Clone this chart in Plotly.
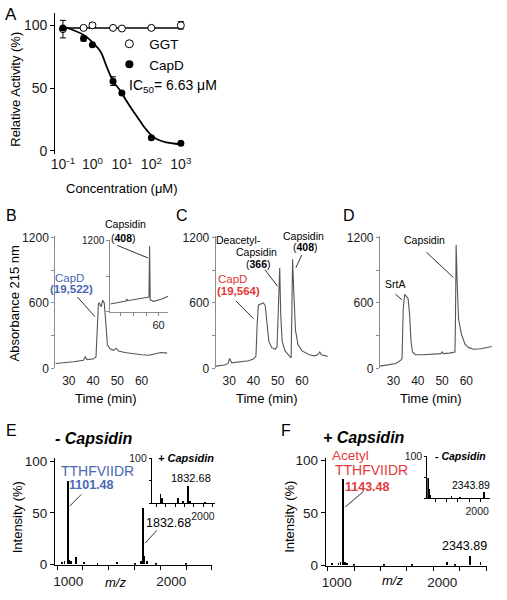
import plotly.graph_objects as go

W, H = 507, 600
FONT = "Liberation Sans, Arial, sans-serif"
BLUE = "#4a68b4"
RED = "#e23a3a"
GRAYAX = "#8c8c8c"
TRACE = "#555555"

# ---------------- data ----------------
# Panel A
conc = [0.1, 0.5, 1, 5, 10, 100, 1000]
ggt_act = [97, 98, 100, 98, 97.5, 98, 100]
ggt_err = [7, 1, 2, 1, 1, 1, 3]
capd_act = [98, 89.5, 84.5, 55.5, 46, 10.3, 5.9]
capd_err = [1, 2, 1, 3.5, 1, 1, 1]
ggt_fit_x = [0.1, 1000]
ggt_fit_y = [98, 98]
capd_fit_x = [0.1, 0.12, 0.54, 1.15, 1.9, 3.16, 5.2, 8.5, 14, 23.4, 39, 64.6, 107, 177, 293, 977]
capd_fit_y = [99, 98.5, 92, 85, 79, 66, 55, 48.4, 40, 32, 24.5, 17.3, 11.6, 8.5, 6.9, 5.1]
x_ticks_a = [0.1, 1, 10, 100, 1000]
x_ticktext_a = ["10<sup>-1</sup>", "10<sup>0</sup>", "10<sup>1</sup>", "10<sup>2</sup>", "10<sup>3</sup>"]

# Panel B (HPLC, CapD)
b_time = [24.5, 28, 32, 36, 36.8, 37.5, 40, 41.2, 41.7, 42.2, 42.6, 43.3, 44.0, 44.6, 45.3, 45.9,
          47, 48.5, 49.5, 50.5, 53, 56, 60, 63, 66, 68, 70.5]
b_abs = [45, 50, 60, 75, 105, 80, 85, 105, 450, 590, 600, 565, 625, 600, 400, 215,
         180, 165, 185, 160, 145, 135, 125, 120, 135, 145, 140]
# Panel B inset
bi_time = [21.5, 34, 34.6, 35.2, 52.3, 52.8, 53.3, 56, 62, 67.7]
bi_abs = [130, 180, 215, 185, 245, 1100, 200, 175, 210, 260]

# Panel C
c_time = [24.5, 28, 29.5, 30.2, 31, 33, 36, 38, 40, 41, 41.5, 42, 43, 44, 44.8, 45.5, 46.3, 47.5,
          49, 49.7, 50.3, 50.8, 51.2, 51.8, 53, 54.5, 55.5, 55.8, 56.1, 56.6, 57.3, 58.3, 60, 63,
          65, 66.5, 67.3, 68, 70.5]
c_abs = [20, 30, 45, 90, 50, 55, 65, 70, 85, 110, 400, 580, 590, 600, 580, 450, 250, 190,
         175, 200, 600, 920, 500, 250, 160, 120, 95, 500, 1000, 700, 350, 220, 160, 125,
         115, 125, 150, 125, 110]

# Panel D
d_time = [24.5, 28, 31, 33, 33.5, 34.0, 34.6, 35.3, 36.0, 36.6, 37.2, 37.8, 39, 42, 46, 49.5, 50,
          50.5, 53, 55.3, 55.5, 55.8, 56.2, 56.8, 58, 59.5, 61, 63, 66, 68, 70.5]
d_abs = [20, 30, 45, 75, 90, 550, 680, 660, 640, 500, 250, 150, 125, 125, 130, 135, 150,
         135, 140, 150, 400, 1135, 800, 450, 310, 220, 190, 175, 180, 190, 200]

time_ticks = [30, 40, 50, 60]
abs_ticks = [0, 300, 600, 900, 1200]
abs_ticktext = ["0", " ", "600", " ", "1200"]

# Panel E (MS, - Capsidin) and inset (+ Capsidin)
e_mz = [1047, 1070, 1101.48, 1115, 1130, 1181, 1262, 1390, 1578, 1756, 1810, 1832.68, 1843, 1872, 1960, 2250]
e_int = [2, 3, 81, 4, 3, 7, 2, 1, 2, 1.5, 3, 55, 8, 3, 1, 1]
ei_mz = [1101.48, 1143, 1574, 1697, 1832.68, 1900, 2300]
ei_int = [20, 12, 11, 4, 38, 3, 2]

# Panel F (MS, + Capsidin) and inset (- Capsidin)
f_mz = [1040, 1101, 1120, 1143.48, 1160, 1183, 1250, 1530, 1800, 2125, 2200, 2343.89, 2445]
f_int = [2, 2, 3, 82, 3, 2, 1, 1, 1, 3, 1, 9, 3]
fi_mz = [1101.48, 1110, 1125, 1143, 1615, 1800, 2343.89]
fi_int = [48, 22, 10, 6, 3, 2, 14]

mz_ticks = [1000, 1250, 1500, 1750, 2000, 2250, 2500]
mz_ticktext = ["1000", " ", " ", " ", "2000", " ", " "]
mz_inset_ticktext = [" ", " ", " ", " ", "2000", " ", " "]


# ---------------- helpers ----------------
def dx(a, b):
    return [a / W, b / W]


def dy(top, bottom):
    return [1 - bottom / H, 1 - top / H]


def ann(text, x, y, size=12, color="black", angle=0, xanchor="center"):
    return dict(text=text, x=x / W, y=1 - y / H, xref="paper", yref="paper",
                showarrow=False, xanchor=xanchor, yanchor="middle", textangle=angle,
                font=dict(family=FONT, size=size, color=color))


def seg(x0, y0, x1, y1, color="#333333"):
    return dict(type="line", xref="paper", yref="paper", x0=x0 / W, y0=1 - y0 / H,
                x1=x1 / W, y1=1 - y1 / H, line=dict(color=color, width=1))


fig = go.Figure()

# ---- A ----
fig.add_trace(go.Scatter(x=ggt_fit_x, y=ggt_fit_y, mode="lines", line=dict(color="black", width=1.5),
                         xaxis="x", yaxis="y", showlegend=False, hoverinfo="skip"))
fig.add_trace(go.Scatter(x=capd_fit_x, y=capd_fit_y, mode="lines", line=dict(color="black", width=1.8, shape="spline"),
                         xaxis="x", yaxis="y", showlegend=False, hoverinfo="skip"))
fig.add_trace(go.Scatter(x=conc, y=ggt_act, mode="markers", xaxis="x", yaxis="y", showlegend=False,
                         error_y=dict(type="data", array=ggt_err, color="black", thickness=1, width=3),
                         marker=dict(symbol="circle", size=7, color="white", line=dict(color="black", width=1))))
fig.add_trace(go.Scatter(x=conc, y=capd_act, mode="markers", xaxis="x", yaxis="y", showlegend=False,
                         error_y=dict(type="data", array=capd_err, color="black", thickness=1, width=3),
                         marker=dict(symbol="circle", size=7, color="black")))
fig.add_trace(go.Scatter(x=[None], y=[None], mode="markers", name="GGT", xaxis="x", yaxis="y",
                         marker=dict(symbol="circle", size=8, color="white", line=dict(color="black", width=1))))
fig.add_trace(go.Scatter(x=[None], y=[None], mode="markers", name="CapD", xaxis="x", yaxis="y",
                         marker=dict(symbol="circle", size=8, color="black")))

# ---- B, C, D ----
for t, a, xa, ya in [(b_time, b_abs, "x2", "y2"), (bi_time, bi_abs, "x3", "y3"),
                     (c_time, c_abs, "x4", "y4"), (d_time, d_abs, "x5", "y5")]:
    fig.add_trace(go.Scatter(x=t, y=a, mode="lines", line=dict(color=TRACE, width=1.1),
                             xaxis=xa, yaxis=ya, showlegend=False, hoverinfo="skip"))

# ---- E, F ----
for mz, it, xa, ya, w in [(e_mz, e_int, "x6", "y6", 8), (ei_mz, ei_int, "x7", "y7", 20),
                          (f_mz, f_int, "x8", "y8", 8), (fi_mz, fi_int, "x9", "y9", 18)]:
    fig.add_trace(go.Bar(x=mz, y=it, width=w, marker=dict(color="black", line=dict(width=0)),
                         xaxis=xa, yaxis=ya, showlegend=False, hoverinfo="skip"))

tickfont = lambda s: dict(family=FONT, size=s, color="#1a1a1a")

layout = dict(
    width=W, height=H, autosize=False, margin=dict(l=0, r=0, t=0, b=0, pad=0),
    paper_bgcolor="white", plot_bgcolor="rgba(0,0,0,0)",
    font=dict(family=FONT, color="black"),
    bargap=0, showlegend=True,
    legend=dict(x=109 / W, y=1 - 23 / H, xanchor="left", yanchor="top",
                font=dict(family=FONT, size=13.5), bgcolor="rgba(0,0,0,0)", itemwidth=30,
                tracegroupgap=0),
    # A
    xaxis=dict(domain=dx(53, 190), type="log", range=[-1.262, 3.23], tickvals=x_ticks_a, ticktext=x_ticktext_a,
               showline=False, ticks="", showgrid=False, zeroline=False, tickfont=tickfont(14), anchor="y"),
    yaxis=dict(domain=dy(7, 152), range=[-3, 110], tickvals=[0, 50, 100], showline=True, linecolor="black",
               linewidth=1.2, ticks="outside", ticklen=4, tickcolor="black", showgrid=False, zeroline=False,
               tickfont=tickfont(14), anchor="x"),
)

# chromatogram axes
def chrom_axes(n, xd):
    layout[f"xaxis{n}"] = dict(domain=dx(*xd), range=[24.4, 71], tickvals=time_ticks, showline=False, ticks="",
                               showgrid=False, zeroline=False, tickfont=tickfont(12), ticklabelstandoff=4,
                               anchor=f"y{n}")
    layout[f"yaxis{n}"] = dict(domain=dy(236, 371), range=[0, 1210], tickvals=abs_ticks, ticktext=abs_ticktext,
                               showline=True, linecolor=GRAYAX, linewidth=1, ticks="outside", ticklen=3,
                               tickcolor=GRAYAX, showgrid=False, zeroline=False, tickfont=tickfont(12),
                               anchor=f"x{n}")

chrom_axes(2, (53, 170))
chrom_axes(4, (219, 336))
chrom_axes(5, (389, 506))
layout["xaxis3"] = dict(domain=dx(110, 170), range=[21.5, 67.7], tickvals=[30, 40, 50, 60],
                        ticktext=[" ", " ", " ", "60"], showline=True, linecolor=GRAYAX, linewidth=1,
                        ticks="outside", ticklen=3, tickcolor=GRAYAX, showgrid=False, zeroline=False,
                        tickfont=tickfont(11), tickangle=0, anchor="y3")
layout["yaxis3"] = dict(domain=dy(240, 313), range=[0, 1200], tickvals=[0, 600, 1200], ticktext=[" ", " ", "1200"],
                        showline=True, linecolor=GRAYAX, linewidth=1, ticks="outside", ticklen=3,
                        tickcolor=GRAYAX, showgrid=False, zeroline=False, tickfont=tickfont(10), anchor="x3")

# MS axes
def ms_axes(n, xd, yd, xr, yr, fs, shift, xlabels, ylabels):
    layout[f"xaxis{n}"] = dict(domain=dx(*xd), range=xr, tickvals=mz_ticks, ticktext=xlabels,
                               showline=True, linecolor="black", linewidth=1, ticks="outside", ticklen=4,
                               tickcolor="black", showgrid=False, zeroline=False, tickfont=tickfont(fs),
                               ticklabelshift=shift, tickangle=0, anchor=f"y{n}")
    layout[f"yaxis{n}"] = dict(domain=dy(*yd), range=yr, tickvals=[0, 50, 100], ticktext=ylabels,
                               showline=True, linecolor="black", linewidth=1, ticks="outside", ticklen=4,
                               tickcolor="black", showgrid=False, zeroline=False, tickfont=tickfont(fs),
                               anchor=f"x{n}")

ms_axes(6, (52.7, 215), (463, 572), [978, 2500], [0, 103], 13.5, 11, mz_ticktext, ["0", "50", "100"])
ms_axes(7, (153, 218), (463, 509), [876, 2555], [0, 100], 10.5, 9, mz_inset_ticktext, [" ", " ", "100"])
ms_axes(8, (333, 500), (463, 573), [982, 2510], [0, 102], 13.5, 9, mz_ticktext, ["0", "50", "100"])
ms_axes(9, (438, 503), (461, 504), [1073, 2466], [0, 100], 10.5, 8, mz_inset_ticktext, [" ", " ", "100"])
for n in (7, 9):
    layout[f"xaxis{n}"]["ticklen"] = 3
    layout[f"yaxis{n}"]["ticklen"] = 2

annotations = [
    # A
    ann("A", 7, 9, 17),
    ann("IC<sub>50</sub>= 6.63 μM", 127, 82, 14, xanchor="left"),
    ann("Concentration (μM)", 122, 187, 13),
    ann("Relative Activity (%)", 11, 85, 13, angle=-90),
    # B
    ann("B", 8, 215, 16),
    ann("Capsidin", 126, 223, 10.5),
    ann("(<b>408</b>)", 124, 238, 10.5),
    ann("CapD", 68, 278, 11.5, BLUE),
    ann("<b>(19,522)</b>", 70, 290, 11.5, BLUE),
    ann("Absorbance 215 nm", 11, 305, 13, angle=-90),
    ann("Time (min)", 106, 402, 13),
    # C
    ann("C", 184, 214, 16),
    ann("Deacetyl-", 243, 240, 10.5),
    ann("Capsidin", 261, 252, 10.5),
    ann("(<b>366</b>)", 263, 264, 10.5),
    ann("Capsidin", 310, 236, 10.5),
    ann("(<b>408</b>)", 312, 247, 10.5),
    ann("CapD", 236, 280, 11.5, RED),
    ann("<b>(19,564)</b>", 243, 292, 11.5, RED),
    ann("Time (min)", 272, 402, 13),
    # D
    ann("D", 357, 214, 16),
    ann("Capsidin", 435, 240, 10.5),
    ann("SrtA", 405, 285, 10.5),
    ann("Time (min)", 442, 402, 13),
    # E
    ann("E", 8, 435, 16),
    ann("<b><i>- Capsidin</i></b>", 93, 443, 16),
    ann("TTHFVIIDR", 97, 476, 14, BLUE),
    ann("<b>1101.48</b>", 91, 490, 12.5, BLUE),
    ann("1832.68", 170, 529, 12.5),
    ann("<b><i>+ Capsidin</i></b>", 188, 463, 11),
    ann("1832.68", 194, 483, 11),
    ann("<i>m/z</i>", 115, 590, 13),
    ann("Intensity (%)", 14, 524, 13, angle=-90),
    # F
    ann("F", 292, 435, 16),
    ann("<b><i>+ Capsidin</i></b>", 373, 442, 16),
    ann("Acetyl", 359, 460, 13.5, RED),
    ann("TTHFVIIDR", 380, 475, 14, RED),
    ann("<b>1143.48</b>", 376, 492, 12.5, RED),
    ann("2343.89", 476, 553, 12.5),
    ann("<b><i>- Capsidin</i></b>", 472, 461, 10.5),
    ann("2343.89", 483, 490, 10.5),
    ann("<i>m/z</i>", 402, 588, 13),
    ann("Intensity (%)", 296, 523, 13, angle=-90),
]

shapes = [
    seg(76, 298, 94, 318),     # B CapD
    seg(117, 245, 149, 258),   # B Capsidin
    seg(270, 270, 283, 287),   # C Deacetyl
    seg(308, 255, 302, 268),   # C Capsidin
    seg(240, 302, 258, 320),   # C CapD
    seg(437, 252, 465, 278),   # D Capsidin
    seg(405, 295, 412, 301),   # D SrtA
    seg(80, 500, 68, 512),     # E 1101
    seg(158, 537, 146, 550),   # E 1832
    seg(372, 497, 353, 513),   # F 1143
]

layout["annotations"] = annotations
layout["shapes"] = shapes
fig.update_layout(**layout)

post = ("document.documentElement.style.margin='0';document.body.style.margin='0';"
        "document.documentElement.style.overflow='hidden';document.body.style.overflow='hidden';"
        "var gd=document.getElementsByClassName('plotly-graph-div')[0];"
        "gd.style.position='fixed';gd.style.left='0px';gd.style.top='0px';")
fig.write_html("out.html", config={"displayModeBar": False, "responsive": False}, post_script=post)
